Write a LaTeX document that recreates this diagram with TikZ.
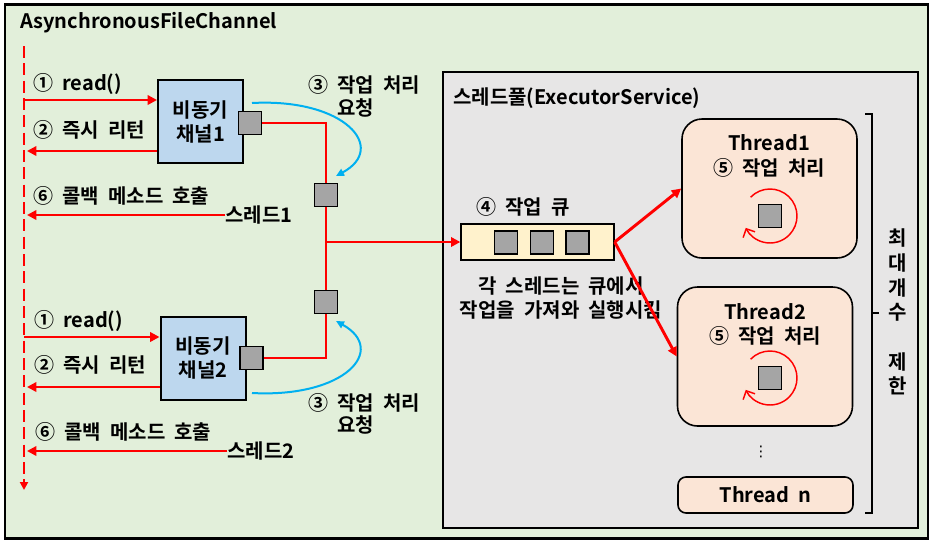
\documentclass[tikz,border=0pt]{standalone}
\usepackage{fontspec}
\setmainfont{Noto Sans CJK KR}[BoldFont=* Bold, WordSpace=2]
\newfontfamily\dvs{DejaVu Sans}
\usetikzlibrary{arrows.meta}
\definecolor{bggreen}{HTML}{E2EFDA}
\definecolor{panelgray}{HTML}{E7E6E6}
\definecolor{chblue}{HTML}{BDD7EE}
\definecolor{qyellow}{HTML}{FFF2CC}
\definecolor{thpeach}{HTML}{FBE5D6}
\definecolor{sqgray}{HTML}{A5A5A5}
\definecolor{arrred}{HTML}{FF0000}
\definecolor{curveblue}{HTML}{00B0F0}
\begin{document}
\begin{tikzpicture}[x=0.75pt,y=-0.75pt,
  font=\bfseries\fontsize{15pt}{18pt}\selectfont,
  lbl/.style={inner sep=0pt, anchor=west},
  ctr/.style={inner sep=0pt},
  chbox/.style={draw, line width=1.5pt, fill=chblue, minimum width=63.75pt, minimum height=62.25pt, align=center, inner sep=0pt},
  sqbox/.style={draw, line width=1pt, fill=sqgray, minimum size=17.25pt, inner sep=0pt},
  thbox/.style={draw, line width=1.2pt, fill=thpeach, rounded corners=15pt, minimum width=131.25pt, minimum height=104.25pt, inner sep=0pt},
  redarrow/.style={draw=arrred, line width=2.2pt, -{Triangle[length=7pt,width=7pt]}},
  redline/.style={draw=arrred, line width=1.5pt},
  bluearrow/.style={draw=curveblue, line width=1.5pt, -{Triangle[length=6pt,width=5.5pt]}},
  cyclearrow/.style={draw=arrred, line width=1.1pt, -{Straight Barb[angle=90:7pt]}}
]
\useasboundingbox (0,0) rectangle (933,544);
% outer frame
\node[draw, line width=1.6pt, fill=bggreen, minimum width=692.25pt, minimum height=400.5pt, inner sep=0pt] (frame) at (466.5,271.5) {};
\node[lbl] (title) at (20,23) {AsynchronousFileChannel};
% thread pool panel
\node[draw, line width=1.2pt, fill=panelgray, minimum width=356.25pt, minimum height=342pt, inner sep=0pt] (panel) at (680.5,300) {};
\node[lbl] (ptitle) at (453,98) {스레드풀(ExecutorService)};

% lifeline
\coordinate (lt) at (24,46);
\coordinate (lb) at (24,490);
\draw[arrred, line width=2pt, dash pattern=on 9pt off 4pt, -{Triangle[length=6pt,width=6pt]}] (lt) -- (lb);

% channels
\node[chbox] (ch1) at (200.5,121.5) {비동기\\채널1};
\node[chbox] (ch2) at (203,358) {비동기\\채널2};
\node[sqbox] (sq1) at (250,123) {};
\node[sqbox] (sq4) at (251.5,358) {};
\node[sqbox] (sq2) at (326,195) {};
\node[sqbox] (sq3) at (326,302) {};

% labels group 1
\node[lbl] (r1) at (33,84) {① read()};
\node[lbl] (ret1) at (33,130) {② 즉시 리턴};
\node[lbl] (cb1) at (33,196) {⑥ 콜백 메소드 호출};
\node[lbl] (th1) at (225,215) {스레드1};
\node[lbl] (req1a) at (308,85) {③ 작업 처리};
\node[lbl] (req1b) at (337,108) {요청};
% labels group 2
\node[lbl] (r2) at (34,321) {① read()};
\node[lbl] (ret2) at (34,365) {② 즉시 리턴};
\node[lbl] (cb2) at (35,432) {⑥ 콜백 메소드 호출};
\node[lbl] (th2) at (227,451) {스레드2};
\node[lbl] (req2a) at (308,403) {③ 작업 처리};
\node[lbl] (req2b) at (337,425) {요청};

% arrows from lifeline
\coordinate (l1) at (24,100);
\coordinate (l2) at (27,151);
\coordinate (l3) at (27,215);
\coordinate (l4) at (24,337);
\coordinate (l5) at (27,387);
\coordinate (l6) at (27,451);
\draw[redarrow] (l1) -- (ch1.west |- l1);
\draw[redarrow] (ch1.west |- l2) -- (l2);
\draw[redarrow] (th1.west |- l3) -- (l3);
\draw[redarrow] (l4) -- (ch2.west |- l4);
\draw[redarrow] (ch2.west |- l5) -- (l5);
\draw[redarrow] (th2.west |- l6) -- (l6);

% red connecting lines
\draw[redline] (sq1.east) -| (sq2.north);
\draw[redline] (sq2.south) -- (sq3.north);
\draw[redline] (sq3.south) |- (sq4.east);

% blue curves
\coordinate (b1s) at (252,103);
\coordinate (b1e) at (336,176);
\coordinate (b2s) at (252,393);
\coordinate (b2e) at (336,321);
\draw[bluearrow] (b1s) .. controls (345,98) and (388,148) .. (b1e);
\draw[bluearrow] (b2s) .. controls (345,398) and (388,350) .. (b2e);

% queue
\node[lbl] (qlabel) at (476,207) {④ 작업 큐};
\node[draw, line width=1pt, fill=qyellow, minimum width=114.75pt, minimum height=27pt, inner sep=0pt] (q) at (537.5,242) {};
\node[sqbox] (qs1) at (506,242.5) {};
\node[sqbox] (qs2) at (542,242.5) {};
\node[sqbox] (qs3) at (577.5,242.5) {};
\node[ctr] (qdesc1) at (561,286) {각 스레드는 큐에서};
\node[ctr] (qdesc2) at (561,310) {작업을 가져와 실행시킴};
\draw[redarrow] (sq2.south |- q.west) -- (q.west);

% threads
\node[thbox] (t1) at (769.5,188.5) {};
\node[thbox] (t2) at (765,356.5) {};
\node[draw, line width=1.2pt, fill=thpeach, rounded corners=6pt, minimum width=131.25pt, minimum height=27pt, inner sep=0pt] (tn) at (765.5,495) {Thread n};
\node[ctr] (t1a) at (769,143) {Thread1};
\node[ctr] (t1b) at (769,168) {⑤ 작업 처리};
\node[ctr] (t2a) at (765,312) {Thread2};
\node[ctr] (t2b) at (765,336) {⑤ 작업 처리};
\node[ctr] (dots) at (761,452) {\dvs\mdseries\fontsize{11pt}{12pt}\selectfont ⋮};
\node[sqbox] (ts1) at (770,216) {};
\node[sqbox] (ts2) at (770,378) {};
\draw[cyclearrow] (ts1.center) ++(224:27) arc[start angle=224, end angle=514, radius=27];
\draw[cyclearrow] (ts2.center) ++(224:27) arc[start angle=224, end angle=514, radius=27];

\draw[redarrow] (q.east) -- (t1.west);
\draw[redarrow] (q.east) -- (t2.west);

% bracket
\coordinate (bt) at (865,114);
\coordinate (bb) at (865,513);
\coordinate (bm) at (879,313);
\draw[line width=1.5pt] (bt) -- (872,114) -- (872,513) -- (bb);
\draw[line width=1.5pt] (872,313) -- (bm);
\node[ctr, align=center, font=\bfseries\fontsize{15pt}{18.5pt}\selectfont] (limit) at (898,312) {최\\대\\개\\수\\~\\제\\한};
\end{tikzpicture}
\end{document}
